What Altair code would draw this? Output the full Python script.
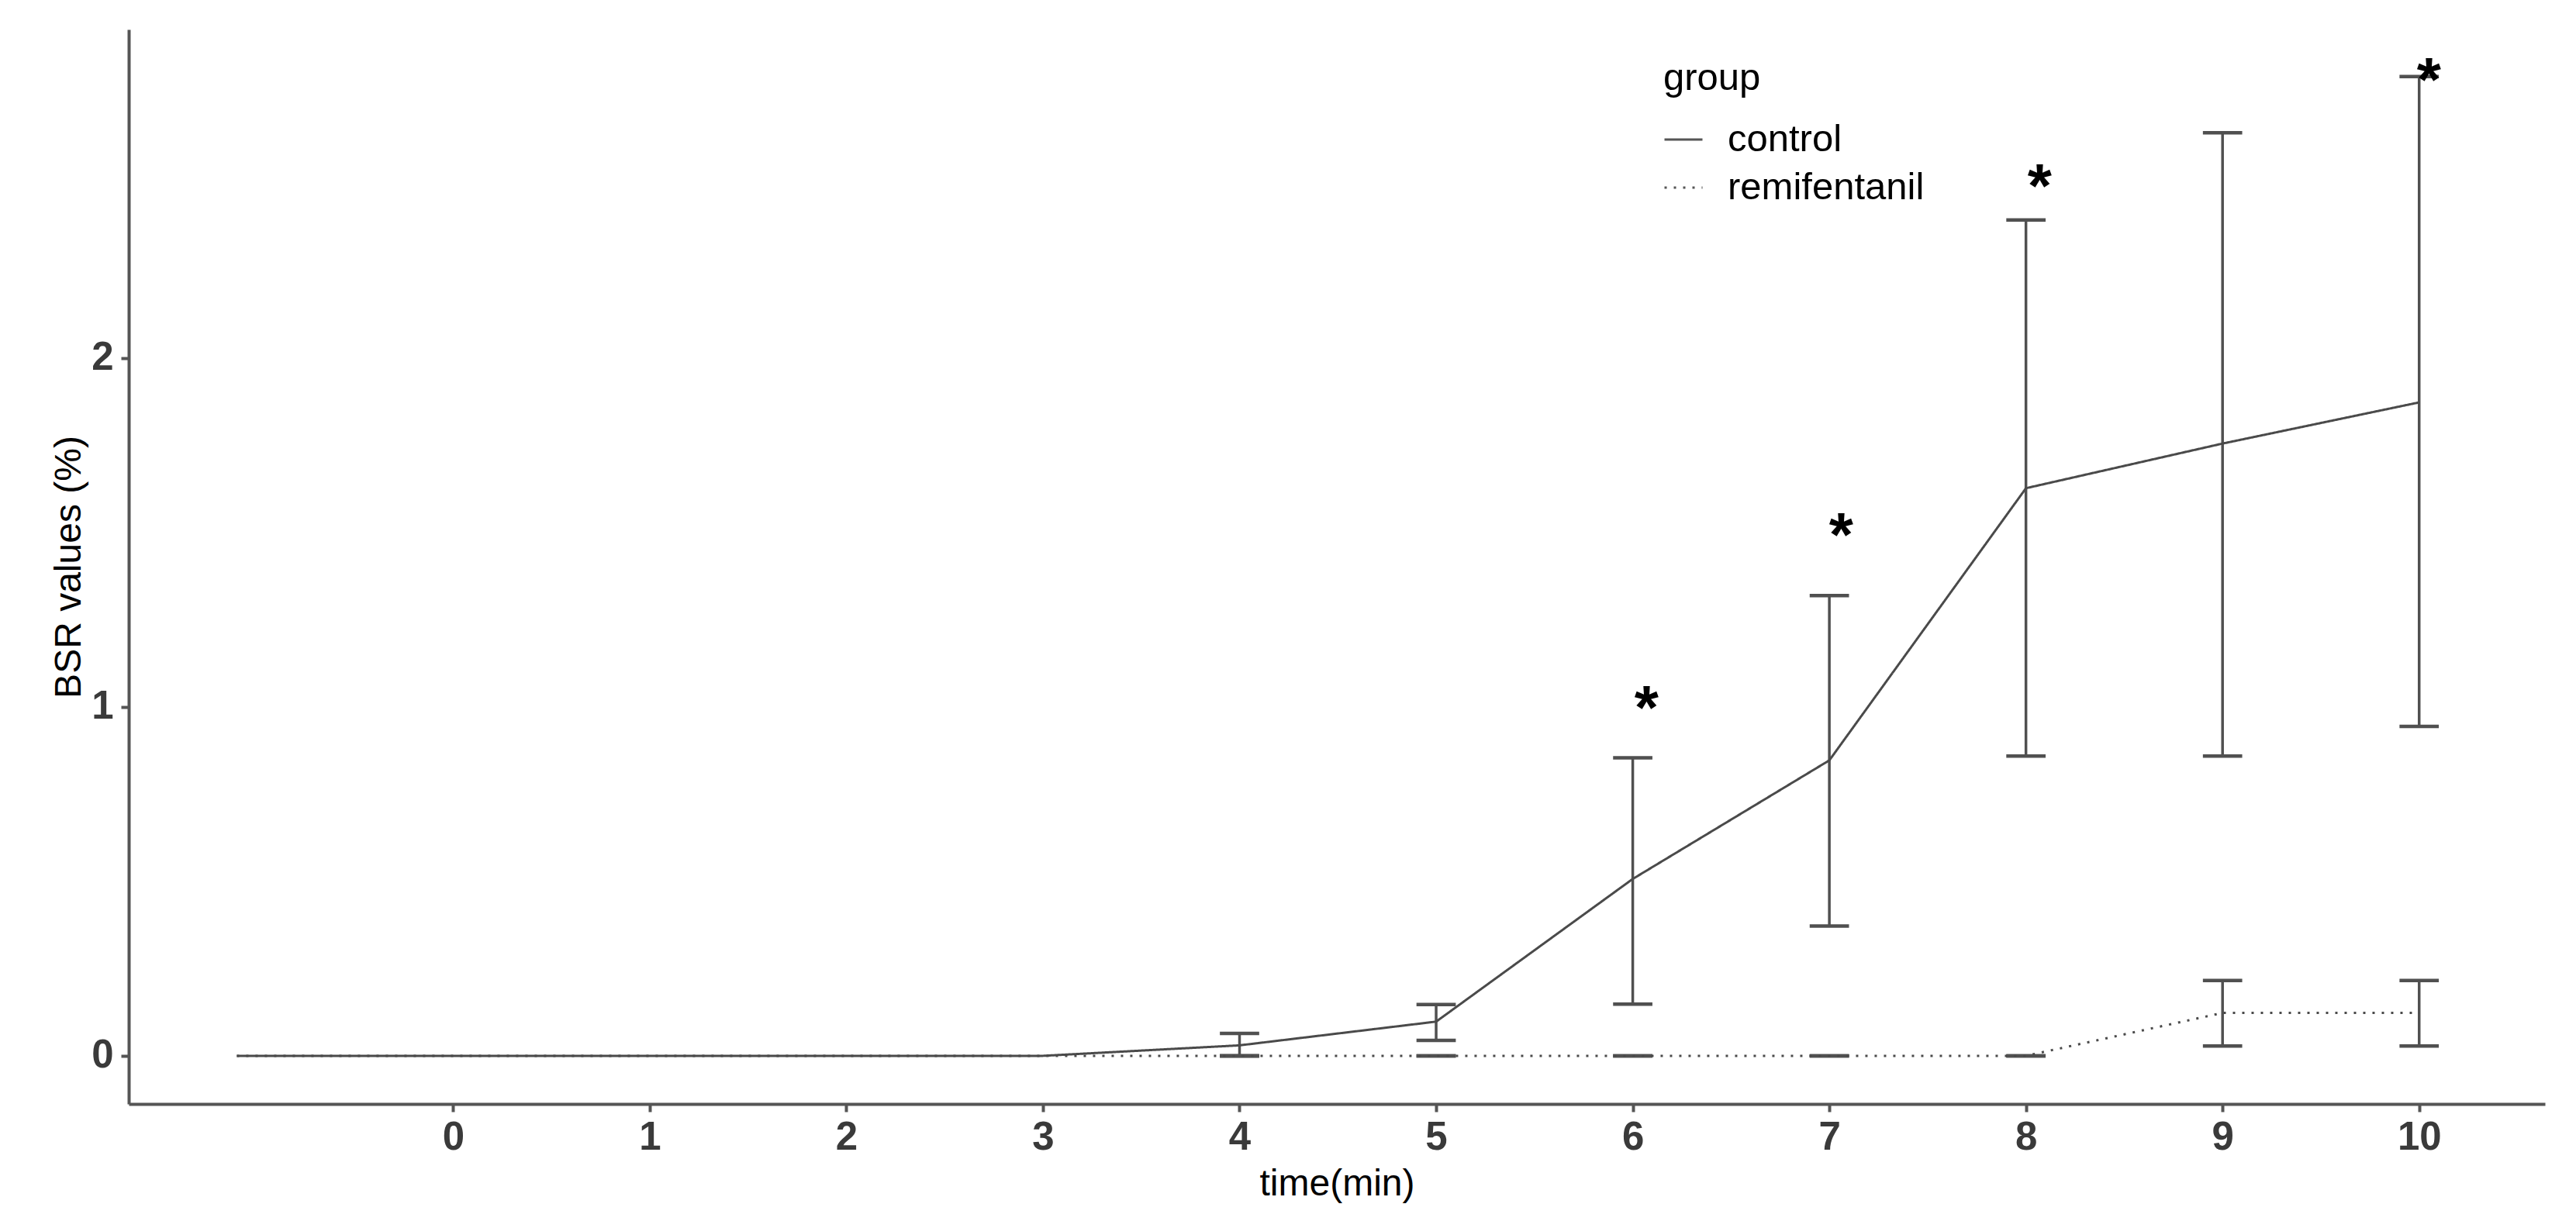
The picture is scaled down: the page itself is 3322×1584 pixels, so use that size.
import altair as alt
import pandas as pd

# ---------------- data ----------------
groups = ["control", "remifentanil"]

time_points = [-1.1, 0, 1, 2, 3, 4, 5, 6, 7, 8, 9, 10]
control_mean = [0, 0, 0, 0, 0, 0.03, 0.098, 0.507, 0.847, 1.627, 1.755, 1.873]
remi_mean = [0, 0, 0, 0, 0, 0, 0, 0, 0, 0, 0.123, 0.123]

err_time = [4, 5, 6, 7, 8, 9, 10]
control_lo = [0.0, 0.044, 0.148, 0.372, 0.859, 0.859, 0.944]
control_hi = [0.064, 0.147, 0.854, 1.319, 2.396, 2.646, 2.807]
remi_lo = [0, 0, 0, 0, 0, 0.028, 0.028]
remi_hi = [0, 0, 0, 0, 0, 0.216, 0.216]

star_time = [6.07, 7.06, 8.07, 10.05]
star_y = [1.04, 1.535, 2.536, 2.84]

x_ticks = list(range(0, 11))
y_ticks = [0, 1, 2]

# ---------------- tables ----------------
line_df = pd.DataFrame({
    "time": time_points * 2,
    "value": control_mean + remi_mean,
    "group": [groups[0]] * len(time_points) + [groups[1]] * len(time_points),
})
err_df = pd.DataFrame({
    "time": err_time * 2,
    "lo": control_lo + remi_lo,
    "hi": control_hi + remi_hi,
    "group": [groups[0]] * len(err_time) + [groups[1]] * len(err_time),
})
star_df = pd.DataFrame({"time": star_time, "value": star_y})

FONT = "Liberation Sans"
GREY = "#505050"

x_scale = alt.Scale(domain=[-1.65, 10.64], nice=False, zero=False)
y_scale = alt.Scale(domain=[-0.138, 2.942], nice=False, zero=False)

x_axis = alt.Axis(values=x_ticks, title="time(min)", titleX=1558, titleY=117,
                  titleBaseline="alphabetic", titleAnchor="middle",
                  labelPadding=8, labelBaseline="top")
y_axis = alt.Axis(values=y_ticks, title="BSR values (%)", titleX=-63, titleY=693,
                  titleBaseline="alphabetic", titleAngle=-90, titleAlign="center",
                  labelPadding=10, labelBaseline="middle")


def X(field):
    return alt.X(f"{field}:Q", scale=x_scale, axis=x_axis, title="time(min)")


def Y(field):
    return alt.Y(f"{field}:Q", scale=y_scale, axis=y_axis, title="BSR values (%)")


lines = alt.Chart(line_df).mark_line(color="#4a4a4a", strokeWidth=3).encode(
    x=X("time"),
    y=Y("value"),
    strokeDash=alt.StrokeDash(
        "group:N",
        scale=alt.Scale(domain=groups, range=[[1, 0], [3, 9]]),
        legend=alt.Legend(title="group", orient="none", legendX=1979, legendY=39,
                          symbolType="stroke", symbolSize=2401, symbolStrokeWidth=3,
                          symbolStrokeColor="#555555", labelOffset=31, labelLimit=0,
                          titlePadding=28, rowPadding=11, padding=0),
    ),
    detail="group:N",
)

err_base = alt.Chart(err_df).transform_calculate(
    tl="datum.time - 0.1", tr="datum.time + 0.1"
)

err_v = err_base.mark_rule(color=GREY, strokeWidth=3.5).encode(
    x=X("time"), y=Y("lo"), y2="hi:Q"
)
cap_lo = err_base.mark_rule(color=GREY, strokeWidth=4.5).encode(
    x=X("tl"), x2="tr:Q", y=Y("lo")
)
cap_hi = err_base.mark_rule(color=GREY, strokeWidth=4.5).encode(
    x=X("tl"), x2="tr:Q", y=Y("hi")
)

stars = alt.Chart(star_df).mark_text(
    text="*", font=FONT, fontSize=80, fontWeight="bold", color="black",
    align="center", baseline="alphabetic", dy=46
).encode(x=X("time"), y=Y("value"))

chart = alt.layer(err_v, cap_lo, cap_hi, lines, stars).properties(
    width=3116, height=1386,
    autosize=alt.AutoSizeParams(type="none"),
    padding={"left": 158, "top": 30, "right": 24, "bottom": 140},
).configure_view(stroke=None).configure_axis(
    grid=False,
    domainColor="#555555", domainWidth=4,
    tickColor="#555555", tickWidth=4, tickSize=10,
    labelFont=FONT, labelFontSize=51, labelFontWeight="bold", labelColor="#3a3a3a",
    titleFont=FONT, titleFontSize=48, titleFontWeight="normal", titleColor="black",
).configure_legend(
    titleFont=FONT, titleFontSize=49, titleFontWeight="normal", titleColor="black",
    labelFont=FONT, labelFontSize=49, labelColor="black", labelLimit=0,
)

chart.save("out.html", embed_options={"renderer": "svg", "actions": False})
